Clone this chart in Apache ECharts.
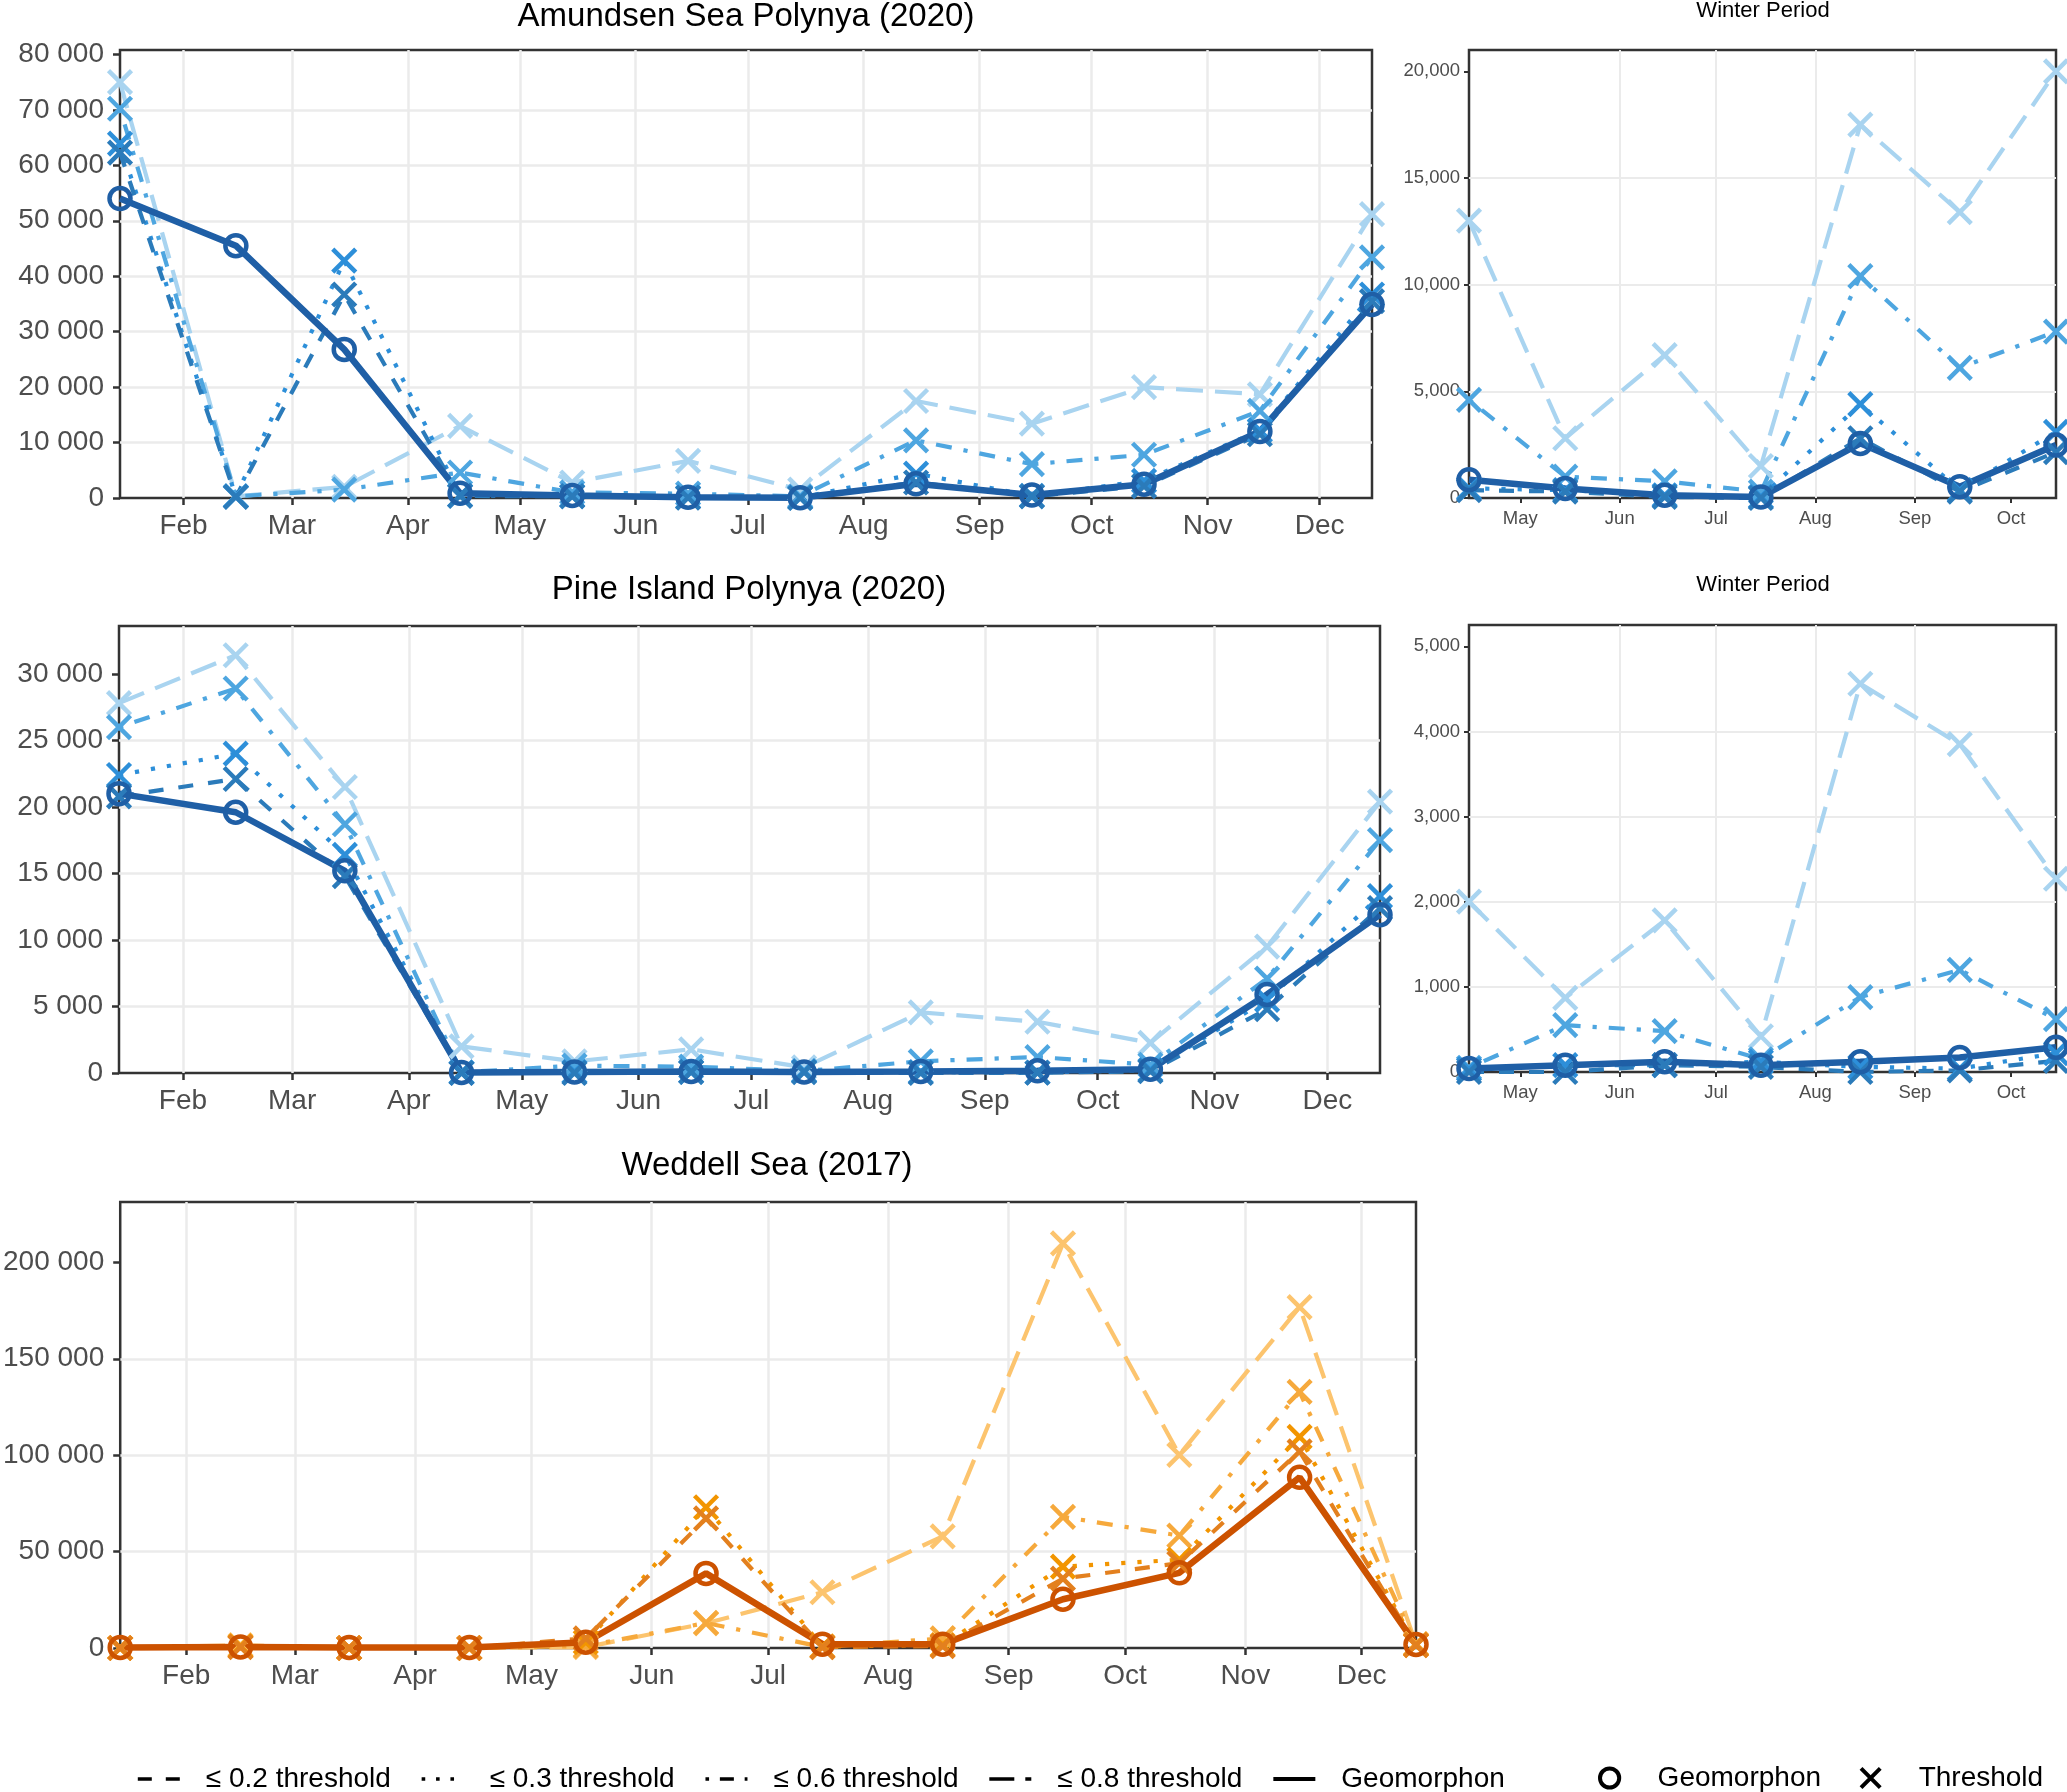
<!DOCTYPE html>
<html>
<head>
<meta charset="utf-8">
<title>Polynya area by threshold</title>
<script src="https://cdn.jsdelivr.net/npm/echarts@6/dist/echarts.min.js"></script>
<style>
  html, body { margin: 0; padding: 0; background: #fff; }
  #chart { width: 2067px; height: 1792px; }
</style>
</head>
<body>
<div id="chart"></div>
<script>
// sampling days (one value per month, mid-month)
const sampleDays = ['01-15', '02-15', '03-15', '04-15', '05-15', '06-15',
                    '07-15', '08-15', '09-15', '10-15', '11-15', '12-15'];
// month gridlines / tick labels
const monthStarts = ['02-01', '03-01', '04-01', '05-01', '06-01', '07-01',
                     '08-01', '09-01', '10-01', '11-01', '12-01'];
const monthNames = ['Jan', 'Feb', 'Mar', 'Apr', 'May', 'Jun', 'Jul', 'Aug', 'Sep', 'Oct', 'Nov', 'Dec'];

// Amundsen Sea Polynya (2020)
const amundsenGeo = [54000, 45500, 26800, 860, 450, 130, 50, 2560, 530, 2480, 12000, 34900];
const amundsenT02 = [62300, 200, 36700, 370, 300, 50, 0, 2800, 300, 2150, 11500, 35500];
const amundsenT03 = [63900, 300, 42800, 450, 370, 130, 50, 4400, 370, 3100, 12200, 36700];
const amundsenT06 = [70200, 300, 1500, 4600, 1000, 780, 300, 10400, 6100, 7800, 15700, 43400];
const amundsenT08 = [75000, 300, 2000, 13000, 2800, 6700, 1500, 17500, 13400, 20000, 18700, 51200];

// Pine Island Polynya (2020)
const pineGeo = [21000, 19600, 15200, 40, 80, 120, 80, 120, 170, 290, 5900, 11900];
const pineT02 = [20800, 22100, 14800, 0, 0, 80, 60, 0, 20, 130, 4800, 12400];
const pineT03 = [22400, 24000, 16400, 30, 80, 80, 120, 60, 40, 220, 5500, 13300];
const pineT06 = [26000, 28900, 18700, 50, 550, 480, 150, 880, 1200, 620, 7100, 17500];
const pineT08 = [27800, 31400, 21500, 2000, 870, 1780, 420, 4560, 3850, 2270, 9500, 20400];

// Weddell Sea (2017)
const weddellGeo = [300, 500, 300, 300, 3000, 38700, 2000, 2000, 25300, 39000, 88500, 1800];
const weddellT02 = [0, 500, 0, 0, 5000, 67200, 500, 1000, 36000, 44000, 102000, 1500];
const weddellT03 = [0, 800, 0, 0, 3000, 73000, 800, 1500, 42200, 45800, 109500, 1500];
const weddellT06 = [0, 1000, 0, 0, 1000, 13000, 500, 5000, 68000, 58300, 132800, 2000];
const weddellT08 = [0, 1500, 0, 0, 500, 12800, 28900, 57900, 209800, 100200, 176800, 2000];

// y tick labels
const amundsenTicks = [0, 10000, 20000, 30000, 40000, 50000, 60000, 70000, 80000];
const amundsenWinterTicks = [0, 5000, 10000, 15000, 20000];
const pineTicks = [0, 5000, 10000, 15000, 20000, 25000, 30000];
const pineWinterTicks = [0, 1000, 2000, 3000, 4000, 5000];
const weddellTicks = [0, 50000, 100000, 150000, 200000];

const FONT = '"Liberation Sans", Arial, Helvetica, sans-serif';
const seriesKeys = ['t08', 't06', 't03', 't02', 'geo'];   // drawing order
const seriesNames = {
  t02: '≤ 0.2 threshold', t03: '≤ 0.3 threshold', t06: '≤ 0.6 threshold',
  t08: '≤ 0.8 threshold', geo: 'Geomorphon'
};
const LW = 4.2;
const dashTypes = {
  t02: [15, 15], t03: [LW, 12], t06: [LW, 12, 16, 12], t08: [27, 12], geo: 'solid'
};
const blues = { t02: '#2b7bba', t03: '#2d8fd9', t06: '#4ea6e0', t08: '#a9d4f0', geo: '#1f5fa6' };
const oranges = { t02: '#e3801e', t03: '#f29500', t06: '#f6a93c', t08: '#fcc46e', geo: '#cc5200' };
const crossPath = 'path://M0,0L10,10M10,0L0,10';
const CLEAR = 'rgba(0,0,0,0)';

const toTime = (year, md) => {
  const p = md.split('-');
  return Date.UTC(year, +p[0] - 1, +p[1]);
};
const spaceSep = v => String(v).replace(/\B(?=(\d{3})+(?!\d))/g, ' ');
const commaSep = v => String(v).replace(/\B(?=(\d{3})+(?!\d))/g, ',');

// one panel: grid, x (time) axis, y axis, 5 line series
const grids = [], xAxes = [], yAxes = [], series = [];

function addPanel(box, year, values, palette, from, to, yMax, yTicks, fmt, small) {
  const idx = grids.length;
  const dates = sampleDays.slice(from, to + 1).map(d => toTime(year, d));
  const labelSize = small ? 18.5 : 28;
  grids.push(Object.assign({
    show: true, borderColor: '#333', borderWidth: 2.5, backgroundColor: '#fff', containLabel: false
  }, box));
  xAxes.push({
    type: 'time', gridIndex: idx,
    min: dates[0], max: dates[dates.length - 1],
    splitNumber: dates.length - 1,
    axisLine: { show: false },
    axisTick: {
      show: true, length: small ? 5 : 7,
      lineStyle: { color: '#333', width: small ? 2 : 2.5 },
      customValues: monthStarts.map(d => toTime(year, d))
    },
    axisLabel: {
      color: '#4d4d4d', fontSize: labelSize, fontFamily: FONT, margin: small ? 11 : 14,
      showMinLabel: false, showMaxLabel: false,
      formatter: v => {
        const d = new Date(v);
        return d.getUTCDate() === 1 ? monthNames[d.getUTCMonth()] : '';
      }
    },
    splitLine: { show: true, showMinLine: false, showMaxLine: false,
                 lineStyle: { color: '#ebebeb', width: small ? 2 : 2.5 } }
  });
  yAxes.push({
    type: 'value', gridIndex: idx, min: 0, max: yMax,
    interval: yTicks[1] - yTicks[0],
    axisLine: { show: false },
    axisTick: {
      show: true, length: small ? 5 : 7,
      lineStyle: { color: '#333', width: small ? 2 : 2.5 },
      customValues: yTicks
    },
    axisLabel: {
      color: '#4d4d4d', fontSize: labelSize, fontFamily: FONT, margin: small ? 9 : 16,
      showMaxLabel: false,
      formatter: v => (yTicks.indexOf(v) >= 0 ? fmt(v) : '')
    },
    splitLine: { show: true, showMinLine: false, showMaxLine: false,
                 lineStyle: { color: '#ebebeb', width: small ? 2 : 2.5 } }
  });
  seriesKeys.forEach(key => {
    const vals = values[key].slice(from, to + 1);
    const isGeo = key === 'geo';
    series.push({
      name: seriesNames[key], type: 'line',
      xAxisIndex: idx, yAxisIndex: idx,
      data: dates.map((d, i) => [d, vals[i]]),
      symbol: isGeo ? 'circle' : crossPath,
      symbolSize: isGeo ? 21 : 23,
      lineStyle: { color: palette[key], width: isGeo ? 6.5 : LW, type: dashTypes[key] },
      itemStyle: { color: CLEAR, borderColor: palette[key], borderWidth: 4.5 },
      emphasis: { disabled: true },
      clip: false
    });
  });
}

const amundsen = { geo: amundsenGeo, t02: amundsenT02, t03: amundsenT03, t06: amundsenT06, t08: amundsenT08 };
const pine = { geo: pineGeo, t02: pineT02, t03: pineT03, t06: pineT06, t08: pineT08 };
const weddell = { geo: weddellGeo, t02: weddellT02, t03: weddellT03, t06: weddellT06, t08: weddellT08 };

addPanel({ left: 120, top: 50, width: 1252, height: 448 }, 2020, amundsen, blues, 0, 11,
         80800, amundsenTicks, spaceSep, false);
addPanel({ left: 1469, top: 50, width: 587, height: 448 }, 2020, amundsen, blues, 3, 9,
         21000, amundsenWinterTicks, commaSep, true);
addPanel({ left: 119, top: 626, width: 1261, height: 447 }, 2020, pine, blues, 0, 11,
         33600, pineTicks, spaceSep, false);
addPanel({ left: 1469, top: 625, width: 587, height: 447 }, 2020, pine, blues, 3, 9,
         5250, pineWinterTicks, commaSep, true);
addPanel({ left: 119, top: 1202, width: 1297, height: 446 }, 2017, weddell, oranges, 0, 11,
         231300, weddellTicks, spaceSep, false);

// empty series only used for the marker legend
series.push({
  name: 'Threshold', type: 'line', data: [], xAxisIndex: 0, yAxisIndex: 0,
  symbol: crossPath, lineStyle: { color: '#000' },
  itemStyle: { color: CLEAR, borderColor: '#000', borderWidth: 4 }
});

const titleStyle = size => ({ fontSize: size, fontWeight: 'normal', color: '#000', fontFamily: FONT });

const option = {
  useUTC: true,
  animation: false,
  backgroundColor: '#fff',
  title: [
    { text: 'Amundsen Sea Polynya (2020)', left: 746, top: 0, textAlign: 'center', padding: 0, textStyle: titleStyle(33) },
    { text: 'Winter Period', left: 1763, top: 0, textAlign: 'center', padding: 0, textStyle: titleStyle(22) },
    { text: 'Pine Island Polynya (2020)', left: 749, top: 573, textAlign: 'center', padding: 0, textStyle: titleStyle(33) },
    { text: 'Winter Period', left: 1763, top: 574, textAlign: 'center', padding: 0, textStyle: titleStyle(22) },
    { text: 'Weddell Sea (2017)', left: 767, top: 1149, textAlign: 'center', padding: 0, textStyle: titleStyle(33) }
  ],
  legend: [
    {
      left: 136, top: 1765, padding: 0, itemWidth: 42, itemHeight: 20, itemGap: 29,
      selectedMode: false,
      textStyle: { fontSize: 28, color: '#000', fontFamily: FONT, padding: [0, 0, 0, 21] },
      lineStyle: { color: '#000', width: 3.6 },
      itemStyle: { color: CLEAR, borderColor: CLEAR, borderWidth: 0 },
      data: [
        { name: seriesNames.t02, lineStyle: { type: [14, 14] } },
        { name: seriesNames.t03, lineStyle: { type: [3.6, 10.8] } },
        { name: seriesNames.t06, lineStyle: { type: [3.6, 10.8, 14, 10.8] } },
        { name: seriesNames.t08, lineStyle: { type: [25, 11] } },
        { name: seriesNames.geo, lineStyle: { type: 'solid', width: 4 } }
      ]
    },
    {
      left: 1598, top: 1764, padding: 0, itemWidth: 22, itemHeight: 24, itemGap: 38,
      selectedMode: false,
      textStyle: { fontSize: 28, color: '#000', fontFamily: FONT, padding: [0, 0, 0, 32] },
      lineStyle: { color: CLEAR, width: 0 },
      itemStyle: { color: CLEAR, borderColor: '#000', borderWidth: 4 },
      data: [{ name: 'Geomorphon' }, { name: 'Threshold' }]
    }
  ],
  grid: grids,
  xAxis: xAxes,
  yAxis: yAxes,
  series: series
};

const chart = echarts.init(document.getElementById('chart'));
chart.setOption(option);
</script>
</body>
</html>
